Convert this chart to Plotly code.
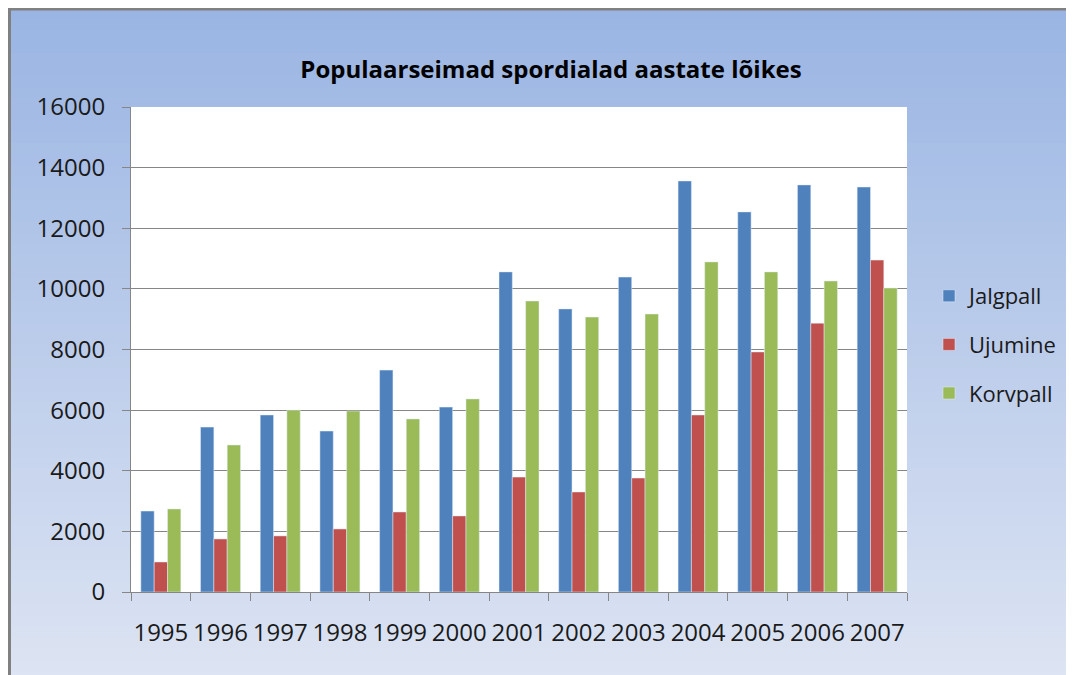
import plotly.graph_objects as go

years = ["1995", "1996", "1997", "1998", "1999", "2000", "2001",
         "2002", "2003", "2004", "2005", "2006", "2007"]
jalgpall = [2670, 5440, 5840, 5310, 7320, 6100, 10560, 9340, 10390, 13560, 12540, 13430, 13360]
ujumine = [990, 1750, 1850, 2080, 2640, 2510, 3790, 3300, 3760, 5840, 7920, 8870, 10950]
korvpall = [2740, 4850, 6000, 5970, 5710, 6370, 9600, 9070, 9170, 10890, 10560, 10260, 10030]

W, H = 1074, 675
# the page puts the figure 8px in from the corner, so work in figure pixels
L, R, T, B = 123, 899, 99, 584

def px_x(x):
    return (x - L) / (R - L)

def px_y(y):
    return (B - y) / (B - T)

FONT = "Open Sans"
TXT = "#1a1a1a"

fig = go.Figure()
fig.add_bar(x=years, y=jalgpall, name="Jalgpall", marker_color="#4f81bd", legendgroup="a")
fig.add_bar(x=years, y=ujumine, name="Ujumine", marker_color="#c0504d", legendgroup="b")
fig.add_bar(x=years, y=korvpall, name="Korvpall", marker_color="#9bbb59", legendgroup="c")

# background gradient made from thin strips
shapes = []
top_c = (154, 181, 227)
bot_c = (221, 228, 243)
n = 60
y0, y1 = 0, H
for i in range(n):
    a = y0 + (y1 - y0) * i / n
    b = y0 + (y1 - y0) * (i + 1) / n + 1
    t = i / (n - 1)
    c = tuple(round(top_c[k] + (bot_c[k] - top_c[k]) * t) for k in range(3))
    shapes.append(dict(type="rect", xref="paper", yref="paper", layer="below",
                       x0=px_x(0), x1=px_x(W), y0=px_y(a), y1=px_y(b),
                       line_width=0, fillcolor="rgb(%d,%d,%d)" % c))
# plot area white
shapes.append(dict(type="rect", xref="paper", yref="paper", layer="below",
                   x0=0, x1=1, y0=0, y1=1, line_width=0, fillcolor="white"))
# outer border (left and top visible)
shapes.append(dict(type="line", xref="paper", yref="paper", x0=px_x(1.5), x1=px_x(1.5),
                   y0=px_y(0), y1=px_y(H), line=dict(color="#808080", width=3)))
shapes.append(dict(type="line", xref="paper", yref="paper", x0=px_x(0), x1=px_x(W),
                   y0=px_y(1), y1=px_y(1), line=dict(color="#808080", width=3)))

fig.update_layout(
    width=W, height=H,
    margin=dict(l=L, r=W - R, t=T, b=H - B, autoexpand=False),
    paper_bgcolor="white", plot_bgcolor="white",
    shapes=shapes,
    barmode="group", bargap=0.33, bargroupgap=0,
    title=dict(text="<b>Populaarseimad spordialad aastate lõikes</b>",
               x=543 / W, xanchor="center", y=1 - 62 / H, yanchor="middle",
               font=dict(family=FONT, size=24, color="#000000")),
    font=dict(family=FONT, size=24, color=TXT),
    legend=dict(x=px_x(921), xanchor="left", y=px_y(267), yanchor="top",
                bgcolor="rgba(0,0,0,0)", tracegroupgap=17,
                font=dict(family=FONT, size=22, color=TXT)),
    showlegend=True,
)
fig.update_xaxes(type="category", tickson="boundaries", ticks="outside", ticklen=8,
                 tickcolor="#868686", showline=True, linecolor="#868686", linewidth=1,
                 tickangle=0, ticklabelstandoff=19, showgrid=False)
fig.update_yaxes(range=[0, 16000], dtick=2000, ticks="outside", ticklen=8,
                 tickcolor="#868686", showline=True, linecolor="#868686", linewidth=1,
                 gridcolor="#868686", gridwidth=1, zeroline=False,
                 ticklabelstandoff=12, tickformat="d")

# figure is wider than the window once the body margin is added; hide scrollbars
fig.write_html("out.html", post_script="document.body.style.overflow='hidden';")
